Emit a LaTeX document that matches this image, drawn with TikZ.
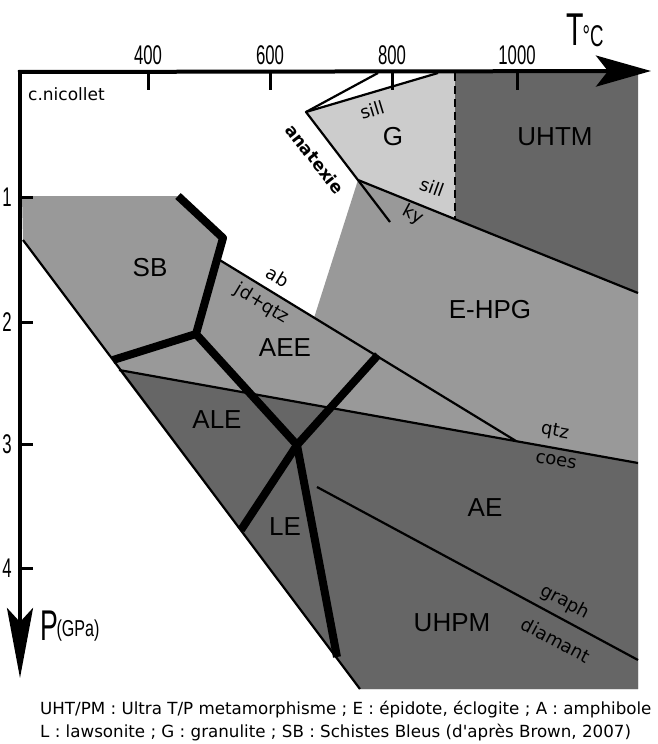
\documentclass[tikz,border=0pt]{standalone}
\usepackage{fontspec}
\setmainfont{Liberation Sans}
\newfontfamily\comic{DejaVu Sans}
\usetikzlibrary{arrows.meta}
\definecolor{lightzone}{gray}{0.6}
\definecolor{darkzone}{gray}{0.4}
\definecolor{gzone}{gray}{0.8}
\newcommand{\condensed}[2]{{\fontsize{#1}{#1}\selectfont\scalebox{0.62}[1]{#2}}}
\begin{document}
\begin{tikzpicture}[x=1pt,y=-1pt,
  zonelabel/.style={font=\fontsize{26}{26}\selectfont, inner sep=0pt},
  smalllabel/.style={font=\comic\fontsize{18}{18}\selectfont, inner sep=0pt},
  captiontext/.style={font=\comic\fontsize{16.7}{16.7}\selectfont, inner sep=0pt, anchor=base west},
  thinline/.style={line width=2.2pt, line join=round},
  thickline/.style={line width=8pt, line join=round},
  axisline/.style={line width=4pt},
  tickline/.style={line width=3pt},
  ticklabel/.style={inner sep=0pt}]
\useasboundingbox (0,0) rectangle (658,744);
% coordinates
\coordinate (dTop) at (23,240);
\coordinate (dBot) at (360,689);
\coordinate (sbTL) at (22,196);
\coordinate (sbTR) at (178,196);
\coordinate (t1c) at (223,238);
\coordinate (K) at (196,334);
\coordinate (t2e) at (113,360);
\coordinate (J) at (297,445);
\coordinate (t4e) at (378,355);
\coordinate (t5e) at (241,530);
\coordinate (t6e) at (337,657);
\coordinate (abS) at (218,259);
\coordinate (abE) at (516,441);
\coordinate (qS) at (119,370);
\coordinate (qE) at (638,463);
\coordinate (eL) at (314,318);
\coordinate (kyS) at (358,180);
\coordinate (kyE) at (638,293);
\coordinate (apex) at (306,112);
\coordinate (anE) at (390,222);
\coordinate (aE) at (378,73);
\coordinate (bE) at (438,73);
\coordinate (dashT) at (455,73);
\coordinate (dashB) at (455,219);
\coordinate (grS) at (317,487);
\coordinate (grE) at (638,660);
\coordinate (BR) at (638,689);
\coordinate (TR) at (638,73);
% fills
\fill[lightzone] (sbTL) -- (sbTR) -- (t1c) -- (abS) -- (eL) -- (kyS) -- (kyE) -- (BR) -- (dBot) -- (dTop) -- cycle;
\fill[darkzone] (qS) -- (qE) -- (BR) -- (dBot) -- cycle;
\fill[gzone] (apex) -- (bE) -- (dashT) -- (dashB) -- (kyS) -- cycle;
\fill[darkzone] (dashT) -- (TR) -- (kyE) -- (dashB) -- cycle;
% thin lines
\draw[thinline] (dTop) -- (dBot);
\draw[thinline] (qS) -- (qE);
\draw[thinline] (abS) -- (abE);
\draw[thinline] (kyS) -- (kyE);
\draw[thinline] (anE) -- (apex) -- (aE);
\draw[thinline] (apex) -- (bE);
\draw[thinline] (grS) -- (grE);
\draw[line width=2.8pt, dash pattern=on 8pt off 5pt] (dashT) -- (dashB);
% thick lines
\draw[thickline] (sbTR) -- (t1c) -- (K) -- (J) -- (t6e);
\draw[thickline] (t2e) -- (K);
\draw[thickline] (t5e) -- (J) -- (t4e);
% axes
\coordinate (O) at (20,72);
\coordinate (Tend) at (651,71);
\coordinate (Pend) at (20,678);
\draw[axisline, -{Stealth[length=55pt,width=31pt,inset=12pt]}] (18,72) -- (Tend);
\draw[axisline, -{Stealth[length=70pt,width=26pt,inset=14pt]}] (20,70) -- (Pend);
\foreach \x/\t in {148/400,270/600,392/800,517/1000}{
  \draw[tickline] (\x,72) -- (\x,90);
  \node[ticklabel] (tx\t) at (\x,55) {\condensed{27}{\t}};
}
\foreach \y/\t in {197/1,322/2,444/3,568/4}{
  \draw[tickline] (20,\y) -- (33,\y);
  \node[ticklabel] (ty\t) at (7,\y) {\condensed{27}{\t}};
}
\node[ticklabel] (Tlab) at (575,30) {\condensed{46}{T}};
\node[ticklabel] (Clab) at (593,36) {\condensed{30}{°C}};
\node[ticklabel] (Plab) at (49,626) {\condensed{43}{P}};
\node[ticklabel] (GPalab) at (78,631) {{\fontsize{23}{23}\selectfont\scalebox{0.7}[1]{(GPa)}}};
\node[smalllabel, anchor=west, font=\comic\fontsize{17}{17}\selectfont] (author) at (28,94) {c.nicollet};
% zone labels
\node[zonelabel] (G) at (393,137) {G};
\node[zonelabel] (UHTM) at (555,137) {UHTM};
\node[zonelabel] (SB) at (150,268) {SB};
\node[zonelabel] (AEE) at (285,348) {AEE};
\node[zonelabel] (EHPG) at (490,310) {E-HPG};
\node[zonelabel] (ALE) at (217,420) {ALE};
\node[zonelabel] (LE) at (285,527) {LE};
\node[zonelabel] (AE) at (485,508) {AE};
\node[zonelabel] (UHPM) at (452,623) {UHPM};
% small labels
\node[smalllabel, rotate=17] (sill1) at (372,110) {sill};
\node[smalllabel, font=\comic\bfseries\fontsize{17}{17}\selectfont, rotate=-52] (anat) at (315,159) {anatexie};
\node[smalllabel, rotate=-20] (sill2) at (432,187) {sill};
\node[smalllabel, rotate=-28] (ky) at (413,215) {ky};
\node[smalllabel, rotate=-31] (ab) at (278,277) {ab};
\node[smalllabel, rotate=-31] (jd) at (262,304) {jd+qtz};
\node[smalllabel, rotate=-10] (qtz) at (555,432) {qtz};
\node[smalllabel, rotate=-10] (coes) at (556,461) {coes};
\node[smalllabel, rotate=-28] (graph) at (565,602) {graph};
\node[smalllabel, rotate=-28] (diam) at (556,640) {diamant};
% caption
\node[captiontext] (cap1) at (40,714) {UHT/PM : Ultra T/P metamorphisme ; E : épidote, éclogite ; A : amphibole};
\node[captiontext] (cap2) at (40,737) {L : lawsonite ; G : granulite ; SB : Schistes Bleus (d'après Brown, 2007)};
\end{tikzpicture}
\end{document}
